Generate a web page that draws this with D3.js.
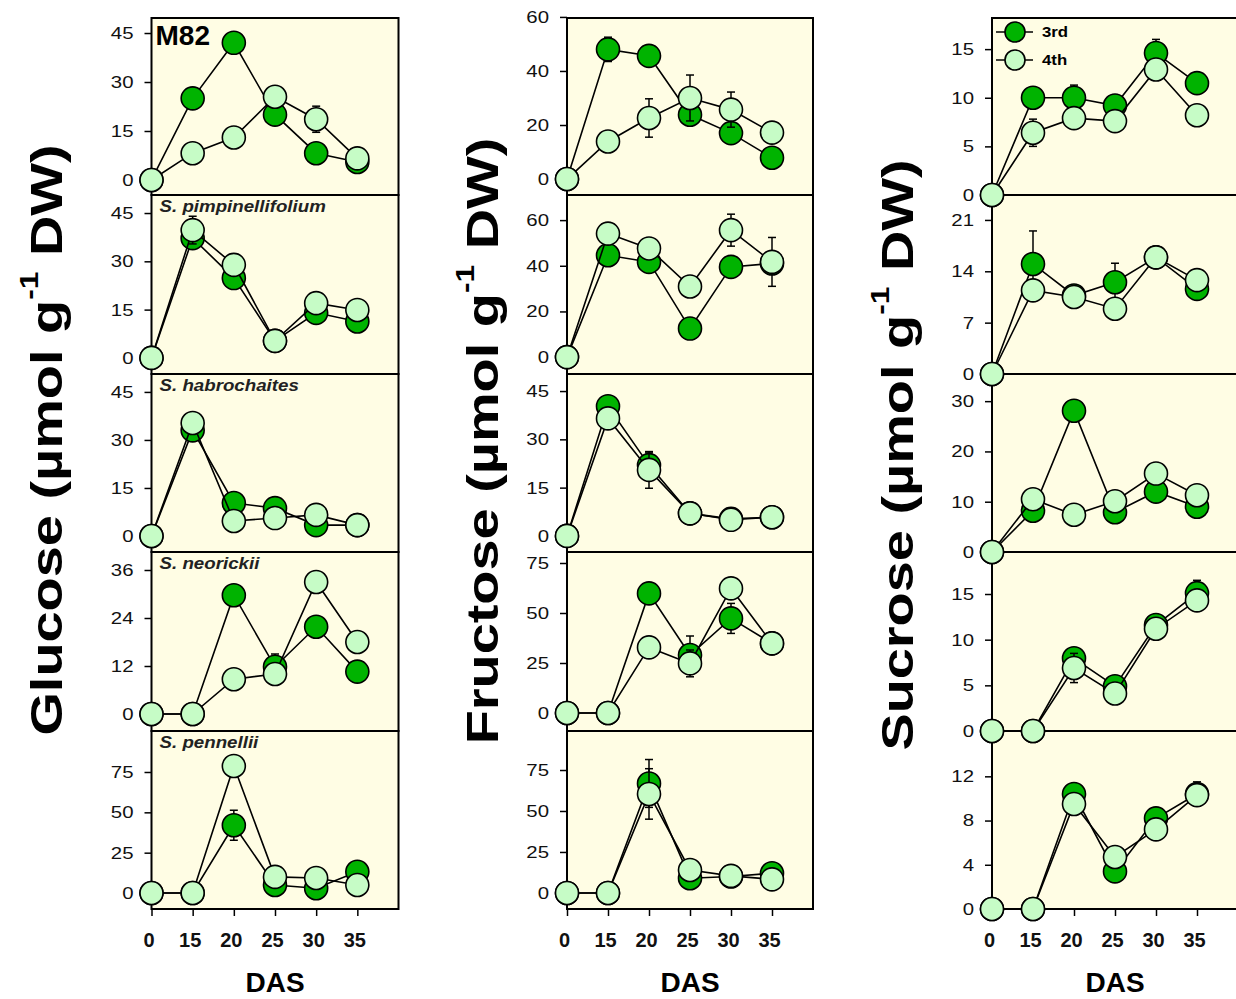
<!DOCTYPE html>
<html>
<head>
<meta charset="utf-8">
<script src="https://cdn.jsdelivr.net/npm/d3@7"></script>
<style>
  body { margin: 0; background: #ffffff; }
  svg { display: block; }
</style>
</head>
<body>
<svg id="chart" width="1236" height="999"></svg>
<script>
// ---- data -------------------------------------------------------------
const das = ["0", "15", "20", "25", "30", "35"];
const genotypes = ["M82", "S. pimpinellifolium", "S. habrochaites", "S. neorickii", "S. pennellii"];
const leaves = ["3rd", "4th"];
const sugars = ["Glucose", "Fructose", "Sucrose"];

// µmol g-1 DW, one row per genotype, one value per DAS
const glucose3rd = [
  [0, 25, 42, 20, 8.2, 5.5],
  [0, 37.2, 24.8, 5.3, 14, 11.3],
  [0, 33, 10.3, 8.7, 3.4, 3.4],
  [0, 0, 29.7, 11.8, 21.8, 10.6],
  [0, 0, 42, 5, 3, 13.2]
];
const glucose4th = [
  [0, 8.2, 13, 25.5, 18.6, 6.6],
  [0, 39.7, 28.9, 5.3, 17, 14.9],
  [0, 35.3, 4.7, 5.6, 6.6, 3.4],
  [0, 0, 8.7, 10, 33, 18],
  [0, 0, 78.7, 10, 9.3, 5]
];
const glucose3rdErr = [
  [0, 0, 0, 0, 0, 0],
  [0, 0, 0, 0, 0, 0],
  [0, 0, 0, 0, 0, 0],
  [0, 0, 0, 3.2, 0, 0],
  [0, 0, 9.3, 0, 0, 0]
];
const glucose4thErr = [
  [0, 0, 0, 0, 4, 0],
  [0, 4.3, 0, 0, 0, 0],
  [0, 0, 0, 0, 0, 0],
  [0, 0, 0, 0, 0, 0],
  [0, 0, 0, 0, 0, 0]
];

const fructose3rd = [
  [0, 48, 45.6, 23.8, 17, 7.9],
  [0, 44.6, 41.7, 12.5, 39.5, 41],
  [0, 40.3, 22, 7, 5.3, 5.8],
  [0, 0, 59.8, 29, 47.3, 34.8],
  [0, 0, 66.8, 9, 10, 12]
];
const fructose4th = [
  [0, 13.9, 22.6, 30, 25.7, 17.2],
  [0, 54.1, 47.6, 30.9, 55.6, 41.7],
  [0, 36.5, 20.5, 7, 5, 5.8],
  [0, 0, 32.8, 24.8, 62.3, 34.8],
  [0, 0, 60.4, 14, 10.4, 8.3]
];
const fructose3rdErr = [
  [0, 4.5, 0, 0, 0, 0],
  [0, 0, 0, 0, 0, 0],
  [0, 0, 3.8, 0, 0, 0],
  [0, 0, 0, 9.5, 7.5, 0],
  [0, 0, 14.6, 0, 0, 0]
];
const fructose4thErr = [
  [0, 0, 7.1, 8.5, 6.5, 0],
  [0, 0, 0, 0, 7, 10.7],
  [0, 0, 5.7, 0, 0, 0],
  [0, 0, 0, 6.7, 0, 0],
  [0, 0, 15.4, 0, 0, 0]
];

const sucrose3rd = [
  [0, 10, 10, 9.2, 14.6, 11.5],
  [0, 15, 10.7, 12.5, 15.9, 11.6],
  [0, 8.2, 28.1, 7.9, 12, 9],
  [0, 0, 7.96, 4.9, 11.6, 15.1],
  [0, 0, 10.4, 3.4, 8.2, 10.4]
];
const sucrose4th = [
  [0, 6.4, 7.9, 7.6, 12.9, 8.2],
  [0, 11.4, 10.5, 8.9, 15.9, 12.8],
  [0, 10.5, 7.4, 10.1, 15.6, 11.3],
  [0, 0, 6.9, 4.1, 11.2, 14.3],
  [0, 0, 9.5, 4.7, 7.2, 10.3]
];
const sucrose3rdErr = [
  [0, 0, 1.3, 0, 1.4, 0],
  [0, 4.5, 0, 2.6, 0, 0],
  [0, 0, 0, 0, 0, 0],
  [0, 0, 0, 0, 0, 1.4],
  [0, 0, 0, 0, 0, 1.1]
];
const sucrose4thErr = [
  [0, 1.4, 0, 0, 0, 0],
  [0, 0, 0, 0, 0, 0],
  [0, 0, 0, 0, 0, 0],
  [0, 0, 1.6, 0, 0, 0],
  [0, 0, 0, 0, 0, 0]
];

// y tick labels per panel
const glucoseTicks = [[0, 15, 30, 45], [0, 15, 30, 45], [0, 15, 30, 45], [0, 12, 24, 36], [0, 25, 50, 75]];
const fructoseTicks = [[0, 20, 40, 60], [0, 20, 40, 60], [0, 15, 30, 45], [0, 25, 50, 75], [0, 25, 50, 75]];
const sucroseTicks = [[0, 5, 10, 15], [0, 7, 14, 21], [0, 10, 20, 30], [0, 5, 10, 15], [0, 4, 8, 12]];

// ---- layout -----------------------------------------------------------
const rowEdges = [18, 195, 374, 552, 731, 909];
const columns = [
  { sugar: sugars[0], s3: glucose3rd, s4: glucose4th, e3: glucose3rdErr, e4: glucose4thErr, ticks: glucoseTicks,
    x0: 151.5, x1: 398.5, titleX: 62, titleY: 440,
    domains: [[-4.6, 49.6], [-5, 50.6], [-5, 50.6], [-4.25, 40.5], [-9.9, 100.4]] },
  { sugar: sugars[1], s3: fructose3rd, s4: fructose4th, e3: fructose3rdErr, e4: fructose4thErr, ticks: fructoseTicks,
    x0: 567, x1: 813, titleX: 498, titleY: 441,
    domains: [[-5.9, 59.6], [-7.4, 71], [-5, 50.3], [-9, 80.5], [-9.8, 98.8]] },
  { sugar: sugars[2], s3: sucrose3rd, s4: sucrose4th, e3: sucrose3rdErr, e4: sucrose4thErr, ticks: sucroseTicks,
    x0: 992, x1: 1238, titleX: 913, titleY: 455,
    domains: [[0, 18.2], [0, 24.4], [0, 35.4], [0, 19.6], [0, 16.1]] }
];

const colors = { "3rd": "#00b300", "4th": "#c6fcc6" };
const panelFill = "#fffde4";
const R = 11.5;
const textStretch = 1.2;

const svg = d3.select("#chart");
const gBack = svg.append("g");
const gMarks = svg.append("g");
const gText = svg.append("g");

columns.forEach((col, ci) => {
  const x = d3.scaleLinear().domain([0, das.length]).range([col.x0, col.x1]);

  genotypes.forEach((gen, ri) => {
    const top = rowEdges[ri], bottom = rowEdges[ri + 1];
    const y = d3.scaleLinear().domain(col.domains[ri]).range([bottom, top]);

    // panel background + frame
    gBack.append("rect")
      .attr("x", col.x0).attr("y", top)
      .attr("width", col.x1 - col.x0).attr("height", bottom - top)
      .attr("fill", panelFill)
      .attr("stroke", "#000").attr("stroke-width", 2);

    // left axis
    const ax = gBack.append("g")
      .attr("transform", `translate(${col.x0},0)`)
      .call(d3.axisLeft(y).tickValues(col.ticks[ri]).tickSize(7).tickPadding(11).tickSizeOuter(0));
    ax.select(".domain").remove();
    ax.selectAll(".tick line").attr("stroke", "#000").attr("stroke-width", 1.5);
    ax.selectAll(".tick text")
      .attr("font-family", "'Liberation Sans', Arial, sans-serif")
      .attr("font-size", 17)
      .attr("fill", "#111")
      .attr("x", -18 / textStretch)
      .attr("transform", `scale(${textStretch},1)`);

    // bottom axis only under the last row
    if (ri === genotypes.length - 1) {
      const bx = gBack.append("g")
        .attr("transform", `translate(0,${bottom})`)
        .call(d3.axisBottom(x).tickValues(d3.range(das.length)).tickFormat(i => das[i])
          .tickSize(7).tickPadding(17).tickSizeOuter(0));
      bx.select(".domain").remove();
      bx.selectAll(".tick line").attr("stroke", "#000").attr("stroke-width", 1.5);
      bx.selectAll(".tick text")
        .attr("font-family", "'Liberation Sans', Arial, sans-serif")
        .attr("font-weight", "bold")
        .attr("font-size", 20)
        .attr("fill", "#111")
        .attr("dx", -3);

      gText.append("text")
        .attr("x", (col.x0 + col.x1) / 2).attr("y", 992)
        .attr("text-anchor", "middle")
        .attr("font-family", "'Liberation Sans', Arial, sans-serif")
        .attr("font-weight", "bold").attr("font-size", 28)
        .attr("fill", "#000")
        .text("DAS");
    }

    // genotype labels (first column only)
    if (ci === 0) {
      if (ri === 0) {
        gText.append("text")
          .attr("x", col.x0 + 4).attr("y", top + 27)
          .attr("font-family", "'Liberation Sans', Arial, sans-serif")
          .attr("font-weight", "bold").attr("font-size", 28)
          .attr("fill", "#000")
          .text(gen);
      } else {
        gText.append("text")
          .attr("transform", `translate(${col.x0 + 8},${top + 16.5}) scale(1.17,1)`)
          .attr("font-family", "'Liberation Sans', Arial, sans-serif")
          .attr("font-weight", "bold").attr("font-style", "italic").attr("font-size", 16)
          .attr("fill", "#222")
          .text(gen);
      }
    }

    // series: line, error bars, symbols
    const series = [
      { leaf: leaves[0], vals: col.s3[ri], errs: col.e3[ri] },
      { leaf: leaves[1], vals: col.s4[ri], errs: col.e4[ri] }
    ];
    series.forEach(s => {
      const g = gMarks.append("g");
      g.append("path")
        .datum(s.vals)
        .attr("fill", "none").attr("stroke", "#000").attr("stroke-width", 1.6)
        .attr("d", d3.line().x((d, i) => x(i)).y(d => y(d)));

      const eb = s.vals.map((v, i) => ({ i, v, e: s.errs[i] })).filter(d => d.e > 0);
      const ebg = g.selectAll("g.err").data(eb).join("g").attr("class", "err")
        .attr("stroke", "#000").attr("stroke-width", 1.5);
      ebg.append("line")
        .attr("x1", d => x(d.i)).attr("x2", d => x(d.i))
        .attr("y1", d => y(d.v - d.e)).attr("y2", d => y(d.v + d.e));
      ebg.append("line")
        .attr("x1", d => x(d.i) - 4).attr("x2", d => x(d.i) + 4)
        .attr("y1", d => y(d.v + d.e)).attr("y2", d => y(d.v + d.e));
      ebg.append("line")
        .attr("x1", d => x(d.i) - 4).attr("x2", d => x(d.i) + 4)
        .attr("y1", d => y(d.v - d.e)).attr("y2", d => y(d.v - d.e));

      g.selectAll("circle").data(s.vals).join("circle")
        .attr("cx", (d, i) => x(i)).attr("cy", d => y(d))
        .attr("r", R)
        .attr("fill", colors[s.leaf])
        .attr("stroke", "#000").attr("stroke-width", 1.6);
    });

    // legend in the first sucrose panel
    if (ci === 2 && ri === 0) {
      leaves.forEach((leaf, li) => {
        const ly = top + 14 + li * 28;
        const lg = gText.append("g");
        lg.append("line")
          .attr("x1", col.x0 + 4).attr("x2", col.x0 + 41)
          .attr("y1", ly).attr("y2", ly)
          .attr("stroke", "#000").attr("stroke-width", 1.6);
        lg.append("circle")
          .attr("cx", col.x0 + 23).attr("cy", ly).attr("r", 10)
          .attr("fill", colors[leaf]).attr("stroke", "#000").attr("stroke-width", 1.6);
        lg.append("text")
          .attr("transform", `translate(${col.x0 + 50},${ly + 5}) scale(1.2,1)`)
          .attr("font-family", "'Liberation Sans', Arial, sans-serif")
          .attr("font-weight", "bold").attr("font-size", 14)
          .attr("fill", "#000")
          .text(leaf);
      });
    }
  });

  // column title
  const t = gText.append("text")
    .attr("transform", `translate(${col.titleX},${col.titleY}) rotate(-90) scale(1.27,1)`)
    .attr("text-anchor", "middle")
    .attr("font-family", "'Liberation Sans', Arial, sans-serif")
    .attr("font-weight", "bold").attr("font-size", 44)
    .attr("fill", "#000");
  t.append("tspan").text(`${col.sugar} (µmol g`);
  t.append("tspan").attr("font-size", 25).attr("dy", -24).text("-1");
  t.append("tspan").attr("dy", 24).text(" DW)");
});
</script>
</body>
</html>
